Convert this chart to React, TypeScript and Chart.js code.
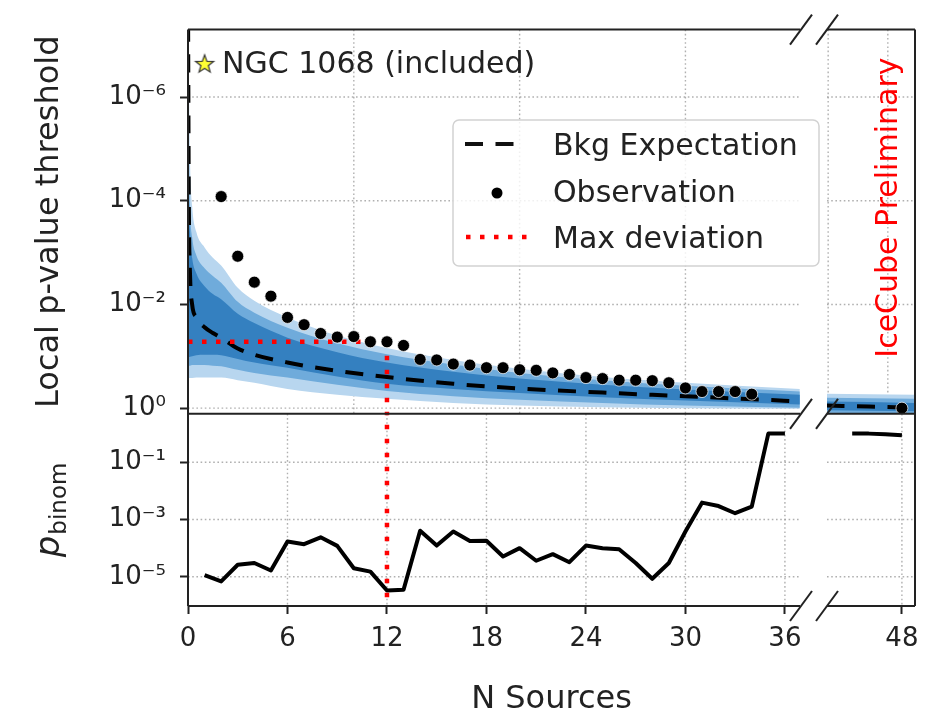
import React, { useEffect, useRef } from 'react';
import { Chart, registerables } from 'chart.js';

Chart.register(...registerables);

// ---------------- data (log10 of p-values) ----------------
const obsN = [2, 3, 4, 5, 6, 7, 8, 9, 10, 11, 12, 13, 14, 15, 16, 17, 18, 19, 20, 21, 22, 23, 24, 25, 26, 27, 28, 29, 30, 31, 32, 33, 34];
const obsExp = [-4.08, -2.93, -2.43, -2.16, -1.75, -1.61, -1.44, -1.37, -1.38, -1.28, -1.28, -1.21, -0.94, -0.93, -0.85, -0.83, -0.78, -0.78, -0.74, -0.73, -0.68, -0.65, -0.59, -0.57, -0.54, -0.54, -0.53, -0.49, -0.39, -0.32, -0.32, -0.32, -0.27];
const obsRightN = [48];
const obsRightExp = [0.0];

const ngcN = [1];
const ngcExp = [-6.64];

const maxDevN = 12;
const maxDevExp = -1.28;

const binomN = [1, 2, 3, 4, 5, 6, 7, 8, 9, 10, 11, 12, 13, 14, 15, 16, 17, 18, 19, 20, 21, 22, 23, 24, 25, 26, 27, 28, 29, 30, 31, 32, 33, 34, 35, 36];
const binomExp = [-4.94, -5.16, -4.58, -4.52, -4.78, -3.77, -3.86, -3.62, -3.92, -4.7, -4.82, -5.48, -5.45, -3.39, -3.91, -3.42, -3.75, -3.74, -4.29, -4.0, -4.44, -4.21, -4.49, -3.91, -4.0, -4.04, -4.52, -5.07, -4.52, -3.42, -2.41, -2.53, -2.78, -2.55, 0.0, 0.0];
const binomRightN = [45, 46, 47, 48];
const binomRightExp = [0.0, 0.0, -0.02, -0.06];

const bandN = [0, 0.05, 0.12, 0.25, 0.5, 1, 1.5, 2, 3, 4, 6, 9, 12, 16, 20, 25, 30, 36.9];
const medianExp = [-8, -4, -2.6, -2.0, -1.75, -1.56, -1.45, -1.36, -1.15, -1.03, -0.88, -0.72, -0.6, -0.47, -0.38, -0.3, -0.23, -0.13];
const darkHiExp = [-8, -4.5, -3.4, -2.9, -2.6, -2.35, -2.2, -2.1, -1.82, -1.64, -1.36, -1.08, -0.88, -0.7, -0.57, -0.45, -0.36, -0.26];
const darkLoExp = [-0.97, -0.98, -0.99, -1.0, -1.02, -1.03, -1.03, -1.02, -0.95, -0.88, -0.78, -0.61, -0.47, -0.37, -0.29, -0.21, -0.15, -0.07];
const medHiExp = [-8, -5.2, -3.9, -3.3, -2.95, -2.7, -2.55, -2.42, -2.05, -1.84, -1.55, -1.25, -1.04, -0.84, -0.68, -0.54, -0.43, -0.32];
const medLoExp = [-0.82, -0.82, -0.82, -0.83, -0.83, -0.83, -0.82, -0.81, -0.74, -0.68, -0.59, -0.45, -0.33, -0.23, -0.16, -0.1, -0.05, -0.01];
const lightHiExp = [-8, -6.5, -4.8, -3.9, -3.4, -3.1, -2.9, -2.75, -2.32, -2.07, -1.75, -1.4, -1.16, -0.93, -0.76, -0.6, -0.49, -0.37];
const lightLoExp = [-0.58, -0.58, -0.58, -0.58, -0.59, -0.59, -0.59, -0.59, -0.54, -0.49, -0.37, -0.26, -0.18, -0.1, -0.05, -0.02, 0.0, 0.01];

const bandRightN = [43.45, 46, 48.8];
const medianRightExp = [-0.05, -0.03, -0.005];
const darkHiRightExp = [-0.13, -0.12, -0.1];
const darkLoRightExp = [0.04, 0.05, 0.06];
const medHiRightExp = [-0.2, -0.19, -0.18];
const medLoRightExp = [0.09, 0.1, 0.1];
const lightHiRightExp = [-0.28, -0.27, -0.26];
const lightLoRightExp = [0.1, 0.1, 0.1];

// axes
const xLeftRange = [0, 36.91];
const xRightRange = [43.48, 48.79];
const xTicksLeft = [0, 6, 12, 18, 24, 30, 36];
const xTicksRight = [48];
const topGridLeft = [10, 20, 30];
const topGridRight = [43.55, 47.15];
const yTopRangeExp = [-7.3, 0.11];
const yBottomRangeExp = [-6.02, 0.69];
const topTickExps = [-6, -4, -2, 0];
const bottomTickExps = [-1, -3, -5];

const legendLabels = ['Bkg Expectation', 'Observation', 'Max deviation'];
const ngcLabel = 'NGC 1068 (included)';
const watermark = 'IceCube Preliminary';
const xTitle = 'N Sources';
const yTopTitle = 'Local p-value threshold';

// ---------------- styling ----------------
const FONT = '"DejaVu Sans", "Liberation Sans", sans-serif';
const INK = '#222222';
const GRID = 'rgba(150,150,150,0.75)';
const DARK = '#3480c0';
const MED = '#6fabdb';
const LIGHT = '#b8d6ef';
const RED = '#ff0000';

const SUP: Record<string, string> = { '-': '\u207B', '0': '\u2070', '1': '\u00B9', '2': '\u00B2', '3': '\u00B3', '4': '\u2074', '5': '\u2075', '6': '\u2076', '7': '\u2077', '8': '\u2078', '9': '\u2079' };
const pow10Label = (v: number) => {
  const e = Math.round(Math.log10(v));
  return '10' + String(e).split('').map((c) => SUP[c] || c).join('');
};

const pts = (xs: number[], exps: number[]) => xs.map((x, i) => ({ x, y: Math.pow(10, exps[i]) }));

function makeStar(): HTMLCanvasElement {
  const c = document.createElement('canvas');
  c.width = 24;
  c.height = 24;
  const g = c.getContext('2d')!;
  const R = 9.5, r = 3.9;
  g.beginPath();
  for (let i = 0; i < 10; i++) {
    const rad = i % 2 === 0 ? R : r;
    const a = -Math.PI / 2 + (i * Math.PI) / 5;
    const px = 12 + rad * Math.cos(a);
    const py = 12.5 + rad * Math.sin(a);
    if (i === 0) g.moveTo(px, py);
    else g.lineTo(px, py);
  }
  g.closePath();
  g.fillStyle = '#ffff33';
  g.fill();
  g.lineWidth = 1.2;
  g.strokeStyle = '#333';
  g.stroke();
  return c;
}

const decorPlugin = {
  id: 'decor',
  beforeDatasetsDraw(chart: any) {
    const { ctx } = chart;
    const { xl, xr, yt, yb } = chart.scales;
    const line = (x1: number, y1: number, x2: number, y2: number) => {
      ctx.beginPath();
      ctx.moveTo(x1, y1);
      ctx.lineTo(x2, y2);
      ctx.stroke();
    };
    ctx.save();
    ctx.strokeStyle = GRID;
    ctx.lineWidth = 1.4;
    ctx.setLineDash([1.6, 2.6]);
    for (const e of topTickExps) {
      const y = yt.getPixelForValue(Math.pow(10, e));
      line(xl.left, y, xl.right, y);
      line(xr.left, y, xr.right, y);
    }
    for (const e of bottomTickExps) {
      const y = yb.getPixelForValue(Math.pow(10, e));
      line(xl.left, y, xl.right, y);
      line(xr.left, y, xr.right, y);
    }
    for (const v of topGridLeft) {
      const x = xl.getPixelForValue(v);
      line(x, yt.top, x, yt.bottom);
    }
    for (const v of topGridRight) {
      const x = xr.getPixelForValue(v);
      line(x, yt.top, x, yt.bottom);
    }
    for (const v of xTicksLeft) {
      if (v === xLeftRange[0]) continue;
      const x = xl.getPixelForValue(v);
      line(x, yb.top, x, yb.bottom);
    }
    for (const v of xTicksRight) {
      const x = xr.getPixelForValue(v);
      line(x, yb.top, x, yb.bottom);
    }
    ctx.restore();
  },
  afterDatasetsDraw(chart: any) {
    const { ctx } = chart;
    const { xl, xr, yt, yb } = chart.scales;
    const line = (x1: number, y1: number, x2: number, y2: number) => {
      ctx.beginPath();
      ctx.moveTo(x1, y1);
      ctx.lineTo(x2, y2);
      ctx.stroke();
    };
    ctx.save();
    ctx.strokeStyle = INK;
    ctx.lineWidth = 2;
    ctx.setLineDash([]);
    for (const y of [yt.top, yt.bottom, yb.bottom]) {
      line(xl.left, y, xl.right, y);
      line(xr.left, y, xr.right, y);
      // break marks
      for (const bx of [xl.right + 1, xr.left]) line(bx - 11, y + 15, bx + 11, y - 15);
    }
    line(xl.left, yt.top, xl.left, yb.bottom);
    line(xr.right, yt.top, xr.right, yb.bottom);

    // NGC 1068 label
    const sx = xl.getPixelForValue(ngcN[0]);
    const sy = yt.getPixelForValue(Math.pow(10, ngcExp[0]));
    ctx.fillStyle = INK;
    ctx.font = `30px ${FONT}`;
    ctx.textAlign = 'left';
    ctx.textBaseline = 'alphabetic';
    ctx.fillText(ngcLabel, sx + 17.5, sy + 9.5);

    // IceCube Preliminary
    ctx.save();
    ctx.translate(xr.right - 18, yt.top + 178);
    ctx.rotate(-Math.PI / 2);
    ctx.fillStyle = RED;
    ctx.font = `30px ${FONT}`;
    ctx.textAlign = 'center';
    ctx.fillText(watermark, 0, 0);
    ctx.restore();

    // p_binom axis title
    ctx.save();
    ctx.fillStyle = INK;
    ctx.font = `italic 34px ${FONT}`;
    const pw = ctx.measureText('p').width;
    ctx.font = `23px ${FONT}`;
    const bw = ctx.measureText('binom').width;
    const total = pw + 1 + bw;
    ctx.translate(yb.left + 58.5, (yb.top + yb.bottom) / 2);
    ctx.rotate(-Math.PI / 2);
    ctx.textAlign = 'left';
    ctx.font = `italic 34px ${FONT}`;
    ctx.fillText('p', -total / 2, 0);
    ctx.font = `23px ${FONT}`;
    ctx.fillText('binom', -total / 2 + pw + 1, 7.3);
    ctx.restore();

    // x title
    ctx.fillStyle = INK;
    ctx.font = `32px ${FONT}`;
    ctx.textAlign = 'center';
    ctx.fillText(xTitle, (xl.left + xr.right) / 2, 708);

    // legend
    const lx = 453, ly = 120, lw = 366, lh = 146, rr = 6;
    ctx.beginPath();
    ctx.roundRect(lx, ly, lw, lh, rr);
    ctx.fillStyle = 'rgba(255,255,255,0.82)';
    ctx.fill();
    ctx.strokeStyle = '#d2d2d2';
    ctx.lineWidth = 1.5;
    ctx.stroke();

    ctx.strokeStyle = '#111';
    ctx.lineWidth = 4;
    ctx.setLineDash([18, 12.5]);
    line(465, 144, 517, 144);
    ctx.setLineDash([]);
    ctx.fillStyle = '#000';
    ctx.beginPath();
    ctx.arc(497, 193, 5.5, 0, Math.PI * 2);
    ctx.fill();
    ctx.strokeStyle = RED;
    ctx.lineWidth = 4.5;
    ctx.setLineDash([4.5, 9.5]);
    line(466, 237, 530, 237);
    ctx.setLineDash([]);

    ctx.fillStyle = INK;
    ctx.font = `30px ${FONT}`;
    ctx.textAlign = 'left';
    ctx.fillText(legendLabels[0], 553, 155);
    ctx.fillText(legendLabels[1], 553, 202);
    ctx.fillText(legendLabels[2], 553, 248);
    ctx.restore();
  },
};

export default function App() {
  const ref = useRef<HTMLCanvasElement | null>(null);

  useEffect(() => {
    const star = makeStar();
    const tickFont = { family: FONT, size: 26 };
    const tickGrid = { display: true, drawOnChartArea: false, drawTicks: true, tickLength: 8, tickWidth: 2, tickColor: INK };
    const L = { xAxisID: 'xl', yAxisID: 'yt' };
    const R = { xAxisID: 'xr', yAxisID: 'yt' };
    const LB = { xAxisID: 'xl', yAxisID: 'yb' };
    const RB = { xAxisID: 'xr', yAxisID: 'yb' };
    const band = (axes: any, data: any, color: string, fill: any) => ({
      ...axes,
      data,
      borderWidth: 0,
      pointRadius: 0,
      cubicInterpolationMode: 'monotone',
      backgroundColor: color,
      borderColor: color,
      fill,
    });
    const dotStyle = { showLine: false, pointRadius: 6, backgroundColor: '#000', borderColor: 'rgba(255,255,255,0.7)', pointBorderWidth: 1 };
    const redStyle = { borderColor: RED, borderWidth: 4.5, borderDash: [4.5, 9.5], pointRadius: 0, fill: false };
    const binomStyle = { borderColor: '#000', borderWidth: 4, borderJoinStyle: 'round', pointRadius: 0, fill: false };
    const medianStyle = { borderColor: '#000', borderWidth: 4, borderDash: [18, 12.5], pointRadius: 0, cubicInterpolationMode: 'monotone', fill: false };

    const datasets: any[] = [
      { ...L, label: 'NGC 1068', data: pts(ngcN, ngcExp), showLine: false, pointStyle: star, pointRadius: 9 },
      { ...L, label: legendLabels[1], data: pts(obsN, obsExp), ...dotStyle },
      { ...R, label: legendLabels[1] + ' (right)', data: pts(obsRightN, obsRightExp), ...dotStyle },
      { ...L, label: legendLabels[2], data: [{ x: xLeftRange[0], y: Math.pow(10, maxDevExp) }, { x: maxDevN, y: Math.pow(10, maxDevExp) }], ...redStyle },
      { ...L, label: legendLabels[2] + ' v1', data: [{ x: maxDevN, y: Math.pow(10, maxDevExp) }, { x: maxDevN, y: Math.pow(10, yTopRangeExp[1]) }], ...redStyle },
      { ...LB, label: legendLabels[2] + ' v2', data: [{ x: maxDevN, y: Math.pow(10, yBottomRangeExp[1]) }, { x: maxDevN, y: Math.pow(10, yBottomRangeExp[0]) }], ...redStyle, borderDashOffset: 3 },
      { ...LB, label: 'p_binom', data: pts(binomN, binomExp), ...binomStyle },
      { ...RB, label: 'p_binom (right)', data: pts(binomRightN, binomRightExp), ...binomStyle },
      { ...L, label: legendLabels[0], data: pts(bandN, medianExp), ...medianStyle },
      { ...R, label: legendLabels[0] + ' (right)', data: pts(bandRightN, medianRightExp), ...medianStyle },
      band(L, pts(bandN, darkHiExp), DARK, '+1'),
      band(L, pts(bandN, darkLoExp), DARK, false),
      band(R, pts(bandRightN, darkHiRightExp), DARK, '+1'),
      band(R, pts(bandRightN, darkLoRightExp), DARK, false),
      band(L, pts(bandN, medHiExp), MED, '+1'),
      band(L, pts(bandN, medLoExp), MED, false),
      band(R, pts(bandRightN, medHiRightExp), MED, '+1'),
      band(R, pts(bandRightN, medLoRightExp), MED, false),
      band(L, pts(bandN, lightHiExp), LIGHT, '+1'),
      band(L, pts(bandN, lightLoExp), LIGHT, false),
      band(R, pts(bandRightN, lightHiRightExp), LIGHT, '+1'),
      band(R, pts(bandRightN, lightLoRightExp), LIGHT, false),
    ];

    const yScale = (exps: number[], range: number[], weight: number, stackWeight: number, reverse: boolean, title: any) => ({
      type: 'logarithmic',
      position: 'left',
      stack: 'y',
      stackWeight,
      weight,
      reverse,
      min: Math.pow(10, range[0]),
      max: Math.pow(10, range[1]),
      afterBuildTicks: (s: any) => {
        s.ticks = exps.map((e) => ({ value: Math.pow(10, e) }));
      },
      afterFit: (s: any) => {
        s.width = 188;
      },
      ticks: { font: tickFont, color: INK, padding: 14, autoSkip: false, callback: (v: number) => pow10Label(v) },
      grid: tickGrid,
      border: { display: false },
      title,
    });

    const xScale = (ticks: number[], range: number[], weight: number, stackWeight: number) => ({
      type: 'linear',
      position: 'bottom',
      stack: 'x',
      stackWeight,
      weight,
      min: range[0],
      max: range[1],
      afterBuildTicks: (s: any) => {
        s.ticks = ticks.map((v) => ({ value: v }));
      },
      afterFit: (s: any) => {
        s.height = 107;
      },
      ticks: { font: tickFont, color: INK, padding: 10, autoSkip: false, maxRotation: 0, callback: (v: number) => String(v) },
      grid: tickGrid,
      border: { display: false },
    });

    const chart = new Chart(ref.current as HTMLCanvasElement, {
      type: 'line',
      data: { datasets },
      options: {
        responsive: false,
        animation: false,
        devicePixelRatio: 1,
        events: [],
        layout: { padding: { left: 0, top: 27, right: 27, bottom: 0 } },
        plugins: { legend: { display: false }, tooltip: { enabled: false } },
        scales: {
          yt: yScale(topTickExps, yTopRangeExp, 2, 386, true, {
            display: true,
            text: yTopTitle,
            color: INK,
            font: { family: FONT, size: 32 },
            padding: { top: 30, bottom: 0 },
          }),
          yb: yScale(bottomTickExps, yBottomRangeExp, 1, 193, false, { display: false }),
          xl: xScale(xTicksLeft, xLeftRange, 0, 612),
          xgap: {
            type: 'linear',
            position: 'bottom',
            stack: 'x',
            stackWeight: 27,
            weight: 1,
            min: 0,
            max: 1,
            ticks: { display: false },
            grid: { display: false },
            border: { display: false },
            afterFit: (s: any) => {
              s.height = 107;
            },
          },
          xr: xScale(xTicksRight, xRightRange, 2, 88),
        },
      } as any,
      plugins: [decorPlugin as any],
    });
    return () => chart.destroy();
  }, []);

  return (
    <div style={{ position: 'absolute', left: 0, top: 0, width: 942, height: 713, background: '#ffffff' }}>
      <canvas ref={ref} width={942} height={713} style={{ display: 'block', width: 942, height: 713 }} />
    </div>
  );
}
